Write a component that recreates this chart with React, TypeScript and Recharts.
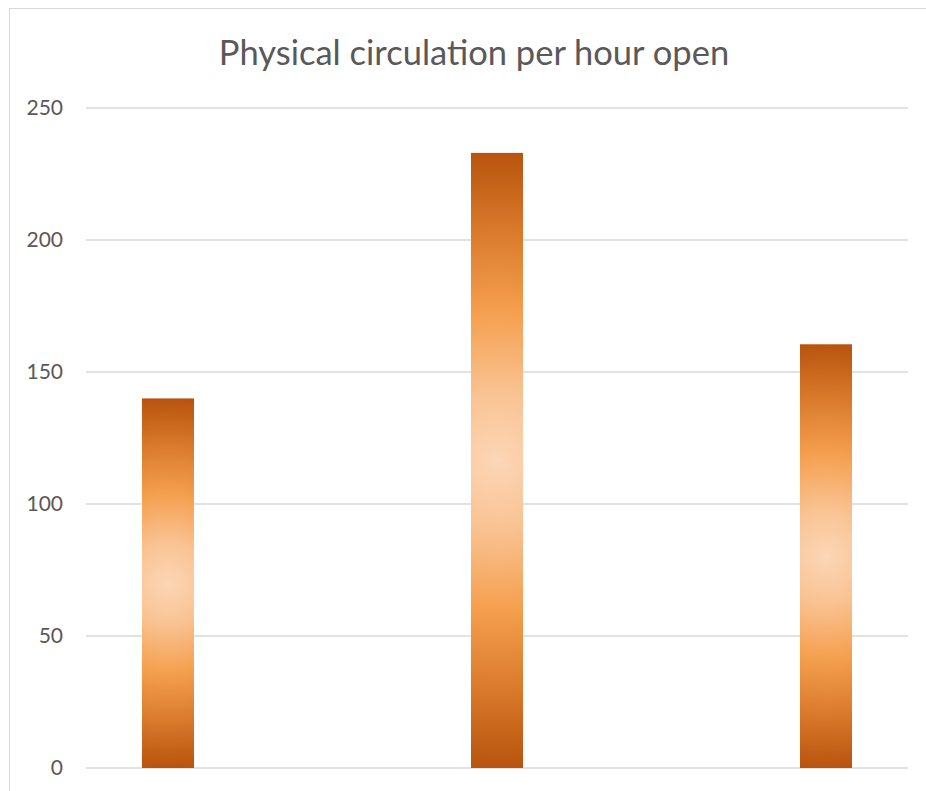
import React from 'react';
import { BarChart, Bar, XAxis, YAxis, CartesianGrid } from 'recharts';

// values
const categories = [''];
const seriesKeys = ['first', 'second', 'third'];
const seriesValues = [140, 233, 160.5];
const yTicks = [0, 50, 100, 150, 200, 250];

const chartData = categories.map((name) => {
  const row: Record<string, string | number> = { name };
  seriesKeys.forEach((key, i) => {
    row[key] = seriesValues[i];
  });
  return row;
});

const FONT = 'Lato, "Open Sans", sans-serif';
const TEXT_COLOR = '#595959';
const GRID_COLOR = '#D9D9D9';

// Excel-like "from center" glow: a circular radial gradient per bar
const GlowBar = (props: any) => {
  const { x, y, width, height, dataKey } = props;
  if (!height || height <= 0) return null;
  const id = `glow-${dataKey}`;
  return (
    <g>
      <defs>
        <radialGradient
          id={id}
          gradientUnits="userSpaceOnUse"
          cx={x + width / 2}
          cy={y + height / 2}
          r={height / 2}
        >
          <stop offset="0%" stopColor="#FCD6B6" />
          <stop offset="22%" stopColor="#F9C393" />
          <stop offset="48%" stopColor="#F5A04F" />
          <stop offset="75%" stopColor="#D9792B" />
          <stop offset="100%" stopColor="#B8540E" />
        </radialGradient>
      </defs>
      <rect x={x} y={y} width={width} height={height} fill={`url(#${id})`} />
    </g>
  );
};

export default function App() {
  return (
    <div
      style={{
        position: 'absolute',
        left: 0,
        top: 0,
        width: 926,
        height: 791,
        overflow: 'hidden',
        background: '#ffffff',
      }}
    >
      <div
        style={{
          position: 'absolute',
          left: 9,
          top: 8,
          width: 930,
          height: 900,
          border: `1.5px solid ${GRID_COLOR}`,
        }}
      />
      <svg
        width={926}
        height={100}
        style={{ position: 'absolute', left: 0, top: 0 }}
      >
        <text
          x={474}
          y={65}
          textAnchor="middle"
          fontFamily={FONT}
          fontSize={34.5}
          fill={TEXT_COLOR}
        >
          Physical circulation per hour open
        </text>
      </svg>
      <div style={{ position: 'absolute', left: -1, top: 0 }}>
        <BarChart
          width={926}
          height={791}
          data={chartData}
          margin={{ top: 108, right: 17, bottom: 23, left: 27 }}
          barSize={52}
          barGap={277}
        >
          <CartesianGrid vertical={false} stroke={GRID_COLOR} strokeWidth={1.5} />
          <XAxis dataKey="name" hide />
          <YAxis
            width={60}
            domain={[0, 250]}
            ticks={yTicks}
            axisLine={false}
            tickLine={false}
            tickSize={0}
            tickMargin={23}
            tick={{ fill: TEXT_COLOR, fontSize: 21, fontFamily: FONT }}
          />
          {seriesKeys.map((key) => (
            <Bar key={key} dataKey={key} shape={GlowBar} isAnimationActive={false} />
          ))}
        </BarChart>
      </div>
    </div>
  );
}
